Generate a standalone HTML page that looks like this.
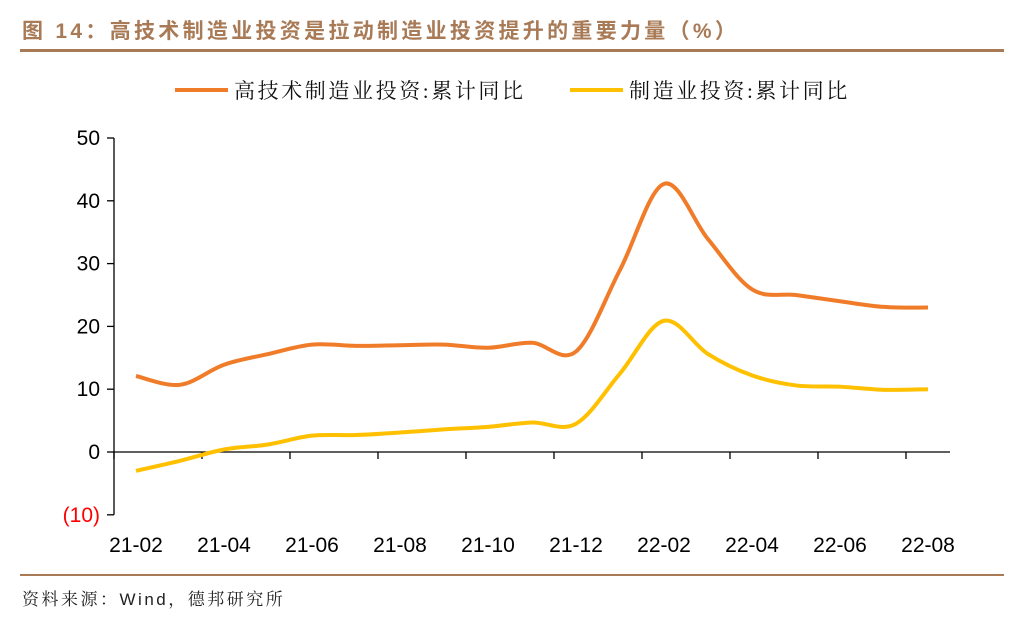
<!DOCTYPE html>
<html><head><meta charset="utf-8"><style>
body{margin:0;background:#fff;width:1036px;height:625px;overflow:hidden;font-family:"Liberation Sans","Noto Sans CJK SC",sans-serif}
</style></head><body>
<svg width="1036" height="625" xmlns="http://www.w3.org/2000/svg">
<text x="22" y="38" font-size="21" font-weight="bold" fill="#A87A56" letter-spacing="3.3" font-family="Liberation Sans,Noto Sans CJK SC,sans-serif">图 14：高技术制造业投资是拉动制造业投资提升的重要力量（%）</text>
<rect x="20" y="49" width="984" height="3" fill="#A87A56"/>
<rect x="20" y="574" width="984" height="2" fill="#A87A56"/>
<text x="22" y="605" font-size="17" fill="#222" letter-spacing="2.5" font-family="Liberation Sans,Noto Serif CJK SC,serif">资料来源：Wind，德邦研究所</text>
<g>
<line x1="175" y1="90" x2="228" y2="90" stroke="#F07C2A" stroke-width="4"/>
<text x="234" y="98" font-size="21" fill="#111" letter-spacing="2.6" font-family="Liberation Serif,Noto Serif CJK SC,serif">高技术制造业投资:累计同比</text>
<line x1="570" y1="90" x2="623" y2="90" stroke="#FFC000" stroke-width="4"/>
<text x="629" y="98" font-size="21" fill="#111" letter-spacing="2.6" font-family="Liberation Serif,Noto Serif CJK SC,serif">制造业投资:累计同比</text>
</g>
<g id="axes"></g>
<g id="series"></g>
</svg>
<script>
const categories=["21-02","21-03","21-04","21-05","21-06","21-07","21-08","21-09","21-10","21-11","21-12","22-01","22-02","22-03","22-04","22-05","22-06","22-07","22-08"];
const hightech=[12.1,10.7,13.9,15.6,17.1,16.9,17.0,17.1,16.6,17.4,16.0,29.0,42.7,33.9,25.9,25.0,24.0,23.1,23.0];
const mfg=[-3.0,-1.4,0.4,1.2,2.6,2.7,3.1,3.6,4.0,4.7,4.5,12.5,20.9,15.6,12.2,10.6,10.4,9.9,10.0];
const yTicks=[50,40,30,20,10,0,-10];
const NS="http://www.w3.org/2000/svg";
const X0=114,STEP=44,Y0=452,PX=6.28;
const xs=i=>X0+STEP/2+STEP*i;
const ys=v=>Y0-v*PX;
const ax=document.getElementById('axes'),se=document.getElementById('series');
function mk(t,a,p){const e=document.createElementNS(NS,t);for(const k in a)e.setAttribute(k,a[k]);p.appendChild(e);return e;}
let yl=mk('line',{x1:X0,y1:ys(50),x2:X0,y2:ys(-10),stroke:'#000','stroke-width':1.3},ax);


yTicks.forEach(v=>{
 const tk=mk('line',{x1:X0-7,y1:ys(v),x2:X0,y2:ys(v),stroke:'#000','stroke-width':1.3},ax);
 
 
 const t=mk('text',{x:X0-14,y:ys(v)+7,'text-anchor':'end','font-size':21,fill:v<0?'#FF0000':'#000'},ax);
 t.textContent=v<0?'('+(-v)+')':v;
 
 
});
let xl=mk('line',{x1:X0,y1:Y0,x2:X0+STEP*categories.length,y2:Y0,stroke:'#000','stroke-width':1.3},ax);


categories.forEach((c,i)=>{
 if(i%2===0){
  const tk=mk('line',{x1:X0+STEP*i,y1:Y0,x2:X0+STEP*i,y2:Y0+7,stroke:'#000','stroke-width':1.3},ax);
  
  
  const t=mk('text',{x:xs(i),y:552,'text-anchor':'middle','font-size':21,fill:'#000'},ax);
  t.textContent=c;
  
  
 }
});
function smooth(vals){
 const p=vals.map((v,i)=>[xs(i),ys(v)]);
 let d='M'+p[0][0]+','+p[0][1];
 for(let i=0;i<p.length-1;i++){
  const a=p[i-1]||p[i],b=p[i],c=p[i+1],e=p[i+2]||c,t=6;
  d+=` C${b[0]+(c[0]-a[0])/t},${b[1]+(c[1]-a[1])/t} ${c[0]-(e[0]-b[0])/t},${c[1]-(e[1]-b[1])/t} ${c[0]},${c[1]}`;
 }
 return d;
}
let l1=mk('path',{d:smooth(hightech),fill:'none',stroke:'#F07C2A','stroke-width':4,'stroke-linejoin':'round'},se);


let l2=mk('path',{d:smooth(mfg),fill:'none',stroke:'#FFC000','stroke-width':4,'stroke-linejoin':'round'},se);


</script>
</body></html>
